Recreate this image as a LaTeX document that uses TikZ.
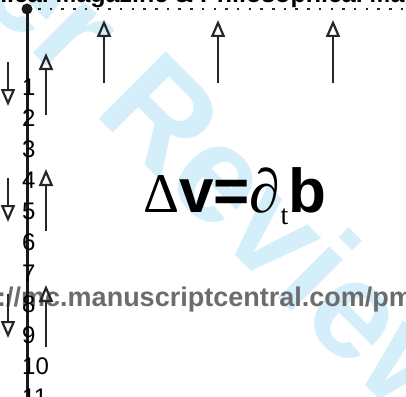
\documentclass[tikz,border=0pt]{standalone}
\usepackage{fontspec}
\setmainfont{Liberation Sans}
\newfontfamily\seriffont{Liberation Serif}
\usetikzlibrary{
    arrows.meta
}
\tikzset{
  flux/.style     = {-{Triangle[open, length=17pt, width=14pt, line width=2.2pt]},
                     line width=1.3pt, black!85},
  shaft/.style    = {line width=3pt, black!90},
  depthnum/.style = {anchor=base west, inner sep=0pt,
                     font=\fontsize{24}{24}\selectfont},
  stamp/.style    = {anchor=base west, inner sep=0pt, rotate=-45, WatermarkBlue,
                     font=\fontsize{138}{138}\selectfont\bfseries}
}
\definecolor{WatermarkBlue}{RGB}{212,238,250}
\definecolor{UrlGray}{RGB}{108,108,108}

\begin{document}
\begin{tikzpicture}[x=1pt, y=-1pt]
\useasboundingbox (0,0) rectangle (406,396);
% watermark and page texts
\node[stamp] (review) at (92,112) {\llap{For Peer }Review};
\node[anchor=base west, inner sep=0pt, UrlGray,
      font=\fontsize{27}{27}\selectfont\bfseries]
    (url) at (21,306) {\llap{http://}mc.manuscriptcentral.com/pm};
\node[anchor=base west, inner sep=0pt,
      font=\fontsize{25}{25}\selectfont\bfseries]
    (journal) at (200,3) {\llap{Philosophical Magazine \& }Philosophical Magazine Letters};
% axis with depth marks
\coordinate (top) at (27,9);
\coordinate (bottom) at (27,400);
\coordinate (rim) at (38,9);
\coordinate (rimend) at (410,9);
\draw[shaft] (top) -- (bottom);
\fill[black!90] (top) circle (5.5);
\draw[line width=2.5pt, dash pattern=on 2.5pt off 9.2pt, black!85] (rim) -- (rimend);
\foreach \n in {1,...,11}
  \node[depthnum] (d\n) at (22,64+31*\n) {\n};
% arrows
\foreach \x [count=\i] in {104,218,333} {
  \coordinate (s\i) at (\x,83);
  \coordinate (e\i) at (\x,20);
  \draw[flux] (s\i) -- (e\i);
}
\foreach \y [count=\i] in {0,116,232} {
  \coordinate (us\i) at (46,115+\y);
  \coordinate (ue\i) at (46,53+\y);
  \coordinate (ds\i) at (8,62+\y);
  \coordinate (de\i) at (8,106+\y);
  \draw[flux] (us\i) -- (ue\i);
  \draw[flux] (ds\i) -- (de\i);
}
% equation
\node[anchor=base west, inner sep=0pt, font=\fontsize{62}{62}\selectfont]
    (eqn) at (143,212) {{\seriffont\fontsize{56}{56}\selectfont Δ}\textbf{v=}{\seriffont\itshape ∂}\raisebox{-12pt}{\seriffont\fontsize{28}{28}\selectfont t}\textbf{b}};
\end{tikzpicture}
\end{document}
